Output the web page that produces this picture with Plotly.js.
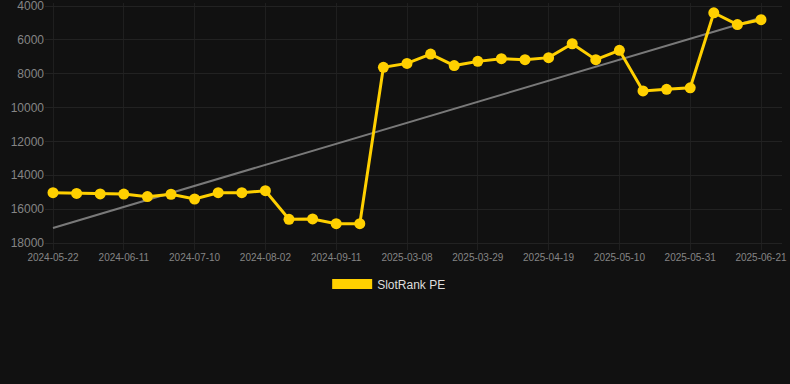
<!DOCTYPE html>
<html>
<head>
<meta charset="utf-8">
<script src="https://cdn.plot.ly/plotly-3.0.1.min.js"></script>
<style>
  html, body { margin: 0; padding: 0; background: #111111; }
  #chart { width: 790px; height: 384px; }
</style>
</head>
<body>
<div id="chart"></div>
<script>
const dates = [
  "2024-05-22", "2024-05-29", "2024-06-04", "2024-06-11", "2024-06-20", "2024-06-30",
  "2024-07-10", "2024-07-17", "2024-07-25", "2024-08-02", "2024-08-15", "2024-08-28",
  "2024-09-11", "2024-09-25", "2025-03-01", "2025-03-08", "2025-03-15", "2025-03-22",
  "2025-03-29", "2025-04-05", "2025-04-12", "2025-04-19", "2025-04-26", "2025-05-03",
  "2025-05-10", "2025-05-17", "2025-05-24", "2025-05-31", "2025-06-07", "2025-06-14",
  "2025-06-21"
];
const rankPE = [
  15030, 15070, 15100, 15110, 15260, 15120,
  15400, 15030, 15030, 14910, 16600, 16580,
  16860, 16860, 7620, 7390, 6840, 7520,
  7270, 7110, 7170, 7050, 6230, 7170,
  6620, 9020, 8920, 8830, 4400, 5100,
  4810
];
const trendX = [dates[0], dates[dates.length - 1]];
const trendY = [17110, 4690];
const seriesName = "SlotRank PE";
const yTicks = [4000, 6000, 8000, 10000, 12000, 14000, 16000, 18000];
const yTickText = ["4000", "6000", "8000", "10000", "12000", "14000", "16000", "18000"];

const yellow = "#FFD000";

const traces = [
  {
    x: trendX, y: trendY, type: "scatter", mode: "lines",
    line: { color: "rgba(140,140,140,0.85)", width: 2 },
    showlegend: false, hoverinfo: "skip"
  },
  {
    x: dates, y: rankPE, type: "scatter", mode: "lines+markers",
    name: seriesName,
    line: { color: yellow, width: 3 },
    marker: { color: yellow, size: 11 },
    showlegend: false
  },
  {
    x: [null], y: [null], type: "scatter", mode: "lines",
    name: seriesName,
    line: { color: yellow, width: 12 },
    showlegend: true
  }
];

const layout = {
  width: 790, height: 384,
  paper_bgcolor: "#111111",
  plot_bgcolor: "#111111",
  margin: { l: 45, r: 8, t: 3, b: 134 },
  font: { family: "Liberation Sans, Arial, sans-serif", color: "#888888" },
  xaxis: {
    type: "category",
    categoryorder: "array",
    categoryarray: dates,
    range: [-0.339, 30.89],
    tickmode: "linear", tick0: 0, dtick: 3,
    showgrid: true, gridcolor: "#1f1f1f", gridwidth: 1,
    zeroline: false, showline: false,
    ticks: "", tickfont: { size: 10, color: "#858585" },
    ticklabeloverflow: "allow"
  },
  yaxis: {
    range: [18413, 3823],
    tickmode: "array", tickvals: yTicks, ticktext: yTickText,
    showgrid: true, gridcolor: "#222222", gridwidth: 1,
    zeroline: false, showline: false,
    ticks: "", tickfont: { size: 12, color: "#858585" },
    ticklabeloverflow: "allow"
  },
  showlegend: true,
  legend: {
    orientation: "h", x: 0.467, xanchor: "center", y: -0.079, yanchor: "top",
    font: { size: 12, color: "#dddddd" },
    bgcolor: "rgba(0,0,0,0)", itemwidth: 40
  },
  hovermode: false
};

Plotly.newPlot("chart", traces, layout, { displayModeBar: false, staticPlot: true });
</script>
</body>
</html>
